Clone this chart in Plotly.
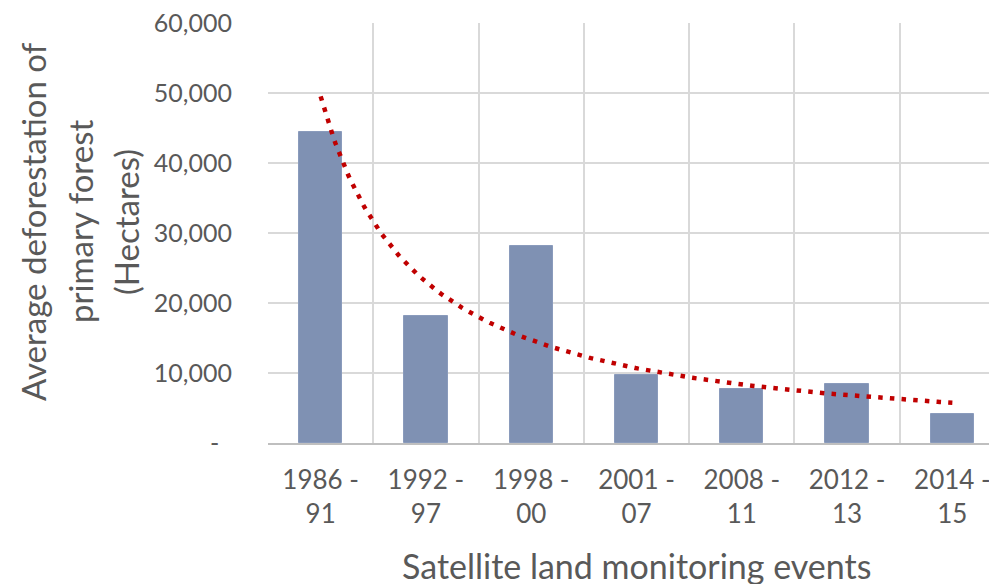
import numpy as np
import plotly.graph_objects as go

# ---- data ----
categories = ["1986 -<br>91", "1992 -<br>97", "1998 -<br>00", "2001 -<br>07",
              "2008 -<br>11", "2012 -<br>13", "2014 -<br>15"]
deforestation = [44500, 18200, 28150, 9700, 7700, 8400, 4100]
y_tick_values = [0, 10000, 20000, 30000, 40000, 50000, 60000]
y_tick_labels = ["-\u00a0\u00a0", "10,000", "20,000", "30,000", "40,000", "50,000", "60,000"]

x_pos = np.arange(1, len(categories) + 1)

# Power trendline (Excel style: least squares of ln(y) on ln(x))
b, ln_a = np.polyfit(np.log(x_pos), np.log(deforestation), 1)
trend_x = np.linspace(1, len(categories), 300)
trend_y = np.exp(ln_a) * trend_x ** b

FONT = "Lato"
GREY = "#595959"

ML, MT, MB = 260, 15, 149
PW, PH = 997 - ML, 584 - MT - MB

fig = go.Figure()
fig.add_trace(go.Bar(
    x=x_pos, y=deforestation, width=0.41,
    marker=dict(color="#7F91B3", line=dict(color="#8A9BBC", width=1)),
    hoverinfo="y", showlegend=False,
))
fig.add_trace(go.Scatter(
    x=trend_x, y=trend_y, mode="lines",
    line=dict(color="#C00000", width=4.5, dash="4.5px,7.2px"),
    hoverinfo="skip", showlegend=False,
))

fig.update_layout(
    width=997, height=584,
    margin=dict(l=ML, r=0, t=MT, b=MB, autoexpand=False),
    paper_bgcolor="white", plot_bgcolor="white",
    font=dict(family=FONT, color=GREY, size=25),
    bargap=0,
    xaxis=dict(
        range=[0.5, 7.5], automargin=False,
        tickvals=list(x_pos), ticktext=categories,
        showgrid=False, zeroline=False,
        ticks="outside", ticklen=13, tickcolor="rgba(0,0,0,0)",
        tickfont=dict(size=26, color=GREY, family=FONT),
        ticklabeloverflow="allow",
        showline=True, linecolor="#BFBFBF", linewidth=1.5,
        minor=dict(tickvals=[i + 0.5 for i in range(0, 8)], showgrid=True,
                   gridcolor="#D9D9D9", gridwidth=1.5, ticks=""),
    ),
    yaxis=dict(
        range=[0, 60000], automargin=False,
        tickvals=y_tick_values, ticktext=y_tick_labels,
        showgrid=True, gridcolor="#D9D9D9", gridwidth=1.5,
        zeroline=False,
        ticks="outside", ticklen=30, tickcolor="rgba(0,0,0,0)",
        tickfont=dict(size=25, color=GREY, family=FONT),
        ticklabeloverflow="allow",
    ),
)

# y-axis title, three lines (positions in page pixels, page has 8px body offset)
y_title_lines = ["Average deforestation of", "primary forest", "(Hectares)"]
y_title_x_px = [33, 80, 126]
for line, xp in zip(y_title_lines, y_title_x_px):
    fig.add_annotation(
        text=line, textangle=-90, showarrow=False,
        xref="paper", yref="paper",
        x=(xp - 8 - ML) / PW, y=(443 - 222) / PH,
        xanchor="center", yanchor="middle",
        font=dict(size=33, color=GREY, family=FONT),
    )

# x-axis title
fig.add_annotation(
    text="Satellite land monitoring events", showarrow=False,
    xref="x", yref="paper", x=4, y=-(565 - 443) / PH,
    xanchor="center", yanchor="middle",
    font=dict(size=34, color=GREY, family=FONT),
)

fig.write_html("out.html")
